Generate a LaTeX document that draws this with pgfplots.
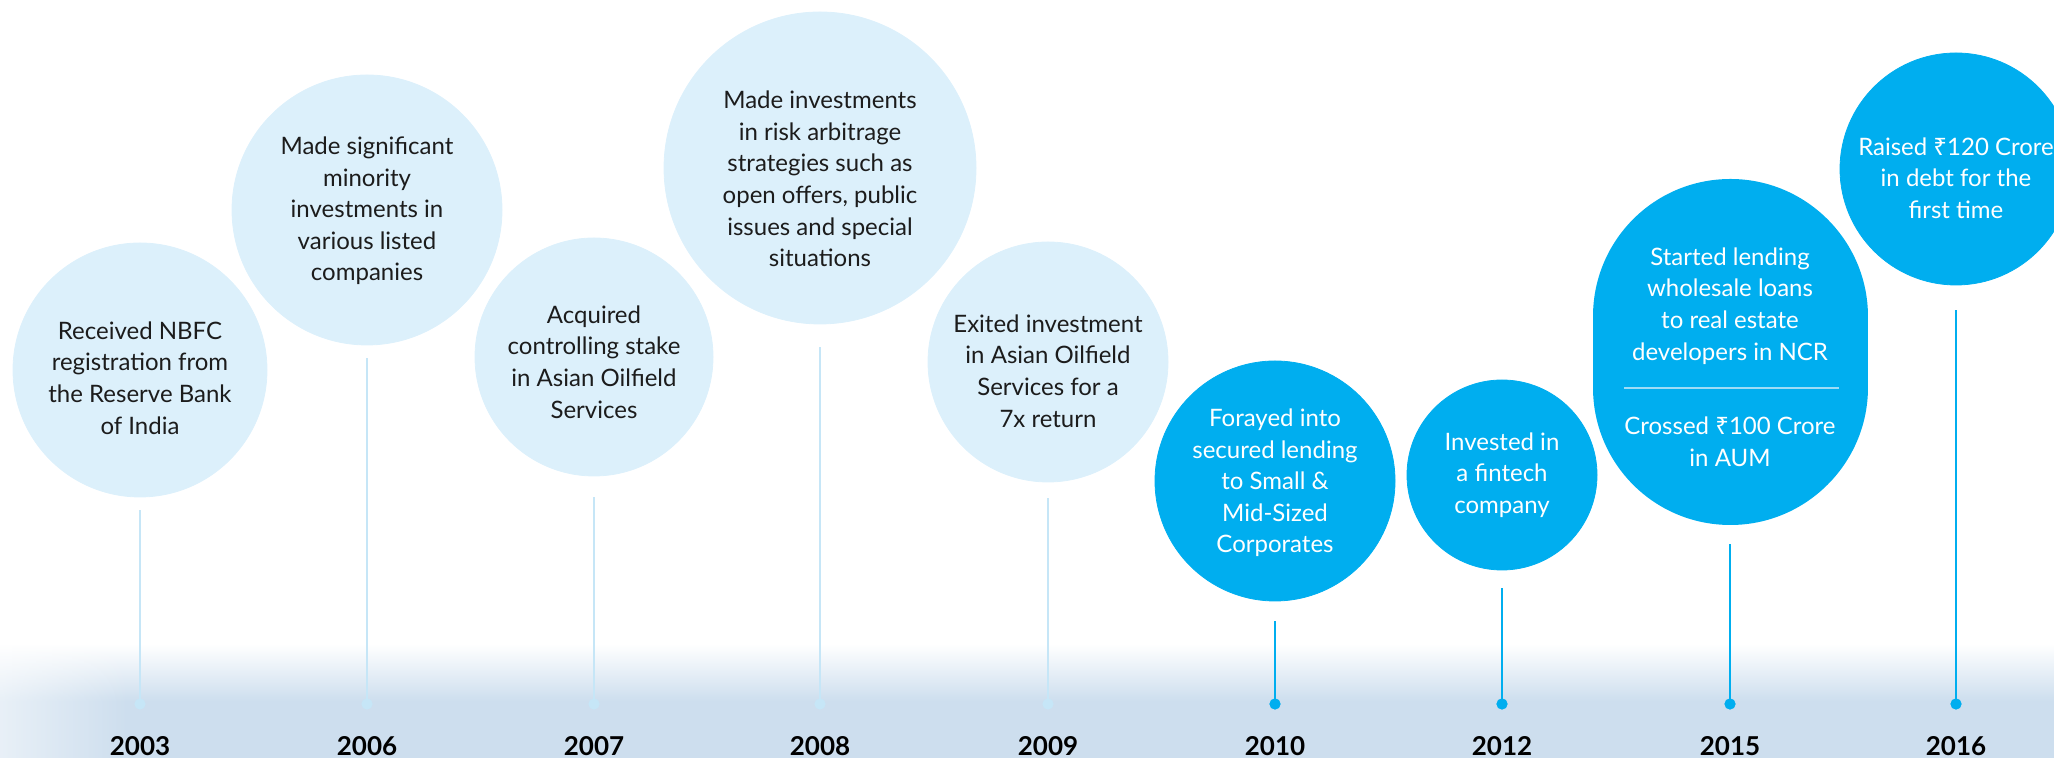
\documentclass[border=0pt]{standalone}
\usepackage{pgfplots}
\pgfplotsset{compat=1.18}
\usepackage{pgfplotstable}
\usepackage{fontspec}
\setmainfont{Lato}
\newfontfamily\rsfont{Noto Sans}
\usetikzlibrary{fadings}

\definecolor{lightc}{HTML}{DCF0FB}
\definecolor{stemlight}{HTML}{C6E6F7}
\definecolor{darkc}{HTML}{00AEEF}
\definecolor{bgb}{HTML}{CDDEEE}
\definecolor{txt}{HTML}{1C1C1C}
\definecolor{divline}{HTML}{9EDCF6}

\tikzfading[name=fadeleft, left color=transparent!0, right color=transparent!100]

% pixel units, y measured upwards
\pgfplotstableread{
x     y     r
140   388   127
367   548   135
594   401   119
820   590   156
1048  396   120
}\lightcircles
\pgfplotstableread{
x     y      r
1275  277    120
1502  283    95
1956  589    116
}\darkcircles
\pgfplotstableread{
x     y   len
140   54  194
367   54  346
594   54  207
820   54  357
1048  54  206
}\lightstems
\pgfplotstableread{
x     y   len
1275  54  83
1502  54  116
1730  54  160
1956  54  394
}\darkstems

\newcommand{\rs}{{\rsfont ₹}}

\begin{document}
\begin{tikzpicture}[
    txtnode/.style={align=center, font=\fontsize{12}{15.8}\selectfont},
    yearnode/.style={font=\fontsize{13}{14}\selectfont\bfseries, text=black},
]
\begin{axis}[
    at={(0,0)}, anchor=south west,
    width=1027pt, height=379pt, scale only axis,
    xmin=0, xmax=2054, ymin=0, ymax=758,
    hide axis, clip=true, clip marker paths=true,
]
% ground band
\addplot[draw=none, top color=white, bottom color=bgb, middle color=bgb]
    coordinates {(0,0) (2054,0) (2054,114) (0,114)} -- cycle;
\addplot[draw=none, fill=white, fill opacity=0.55, path fading=fadeleft]
    coordinates {(0,0) (130,0) (130,114) (0,114)} -- cycle;

% stems with end dots
\addplot[only marks, mark=*, mark size=2.6pt, color=stemlight,
    error bars/.cd, y dir=plus, y explicit, error mark=none,
    error bar style={line width=1.3pt, stemlight}]
    table[x=x, y=y, y error=len] {\lightstems};
\addplot[only marks, mark=*, mark size=2.6pt, color=darkc,
    error bars/.cd, y dir=plus, y explicit, error mark=none,
    error bar style={line width=1.4pt, darkc}]
    table[x=x, y=y, y error=len] {\darkstems};

% bubbles
\addplot[scatter, only marks, mark=*,
    visualization depends on={0.5*\thisrow{r} \as \rad},
    scatter/use mapped color={draw=lightc, fill=lightc},
    scatter/@pre marker code/.append style={/tikz/mark size=\rad}]
    table[x=x, y=y] {\lightcircles};
\addplot[scatter, only marks, mark=*,
    visualization depends on={0.5*\thisrow{r} \as \rad},
    scatter/use mapped color={draw=darkc, fill=darkc},
    scatter/@pre marker code/.append style={/tikz/mark size=\rad}]
    table[x=x, y=y] {\darkcircles};
% 2015 capsule: round-capped stroke 275 px wide
\addplot[darkc, line width=137.5pt, line cap=round]
    coordinates {(1730,370.5) (1730,441.5)};
\addplot[divline, line width=1pt] coordinates {(1624,370) (1839,370)};

% bubble texts
\node[txtnode, text=txt] at (140,380) {Received NBFC\\registration from\\the Reserve Bank\\of India};
\node[txtnode, text=txt] at (367,547) {Made significant\\minority\\investments in\\various listed\\companies};
\node[txtnode, text=txt] at (594,396) {Acquired\\controlling stake\\in Asian Oilfield\\Services};
\node[txtnode, text=txt] at (820,579) {Made investments\\in risk arbitrage\\strategies such as\\open offers, public\\issues and special\\situations};
\node[txtnode, text=txt] at (1048,387) {Exited investment\\in Asian Oilfield\\Services for a\\7x return};
\node[txtnode, text=white] at (1275,275) {Forayed into\\secured lending\\to Small \&\\Mid-Sized\\Corporates};
\node[txtnode, text=white] at (1502,283) {Invested in\\a fintech\\company};
\node[txtnode, text=white] at (1730,452) {Started lending\\wholesale loans\\to real estate\\developers in NCR};
\node[txtnode, text=white] at (1730,316) {Crossed \rs100 Crore\\in AUM};
\node[txtnode, text=white] at (1956,580) {Raised \rs120 Crore\\in debt for the\\first time};

% years
\node[yearnode] at (140,12) {2003};
\node[yearnode] at (367,12) {2006};
\node[yearnode] at (594,12) {2007};
\node[yearnode] at (820,12) {2008};
\node[yearnode] at (1048,12) {2009};
\node[yearnode] at (1275,12) {2010};
\node[yearnode] at (1502,12) {2012};
\node[yearnode] at (1730,12) {2015};
\node[yearnode] at (1956,12) {2016};
\end{axis}
\pgfresetboundingbox
\useasboundingbox (0,0) rectangle (1027pt,379pt);
\end{tikzpicture}
\end{document}
